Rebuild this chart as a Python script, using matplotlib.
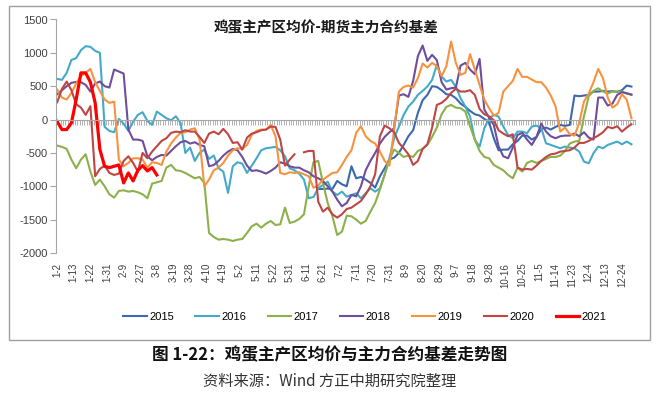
import numpy as np
import matplotlib
matplotlib.use("Agg")
import matplotlib.pyplot as plt
from matplotlib.patches import Rectangle

plt.rcParams['font.family'] = ['Liberation Sans', 'Noto Sans CJK SC', 'DejaVu Sans']
plt.rcParams['axes.unicode_minus'] = False

# category axis: trading days, one label every 7 days
n_days = 244
label_every = 7
date_labels = ["1-2", "1-13", "1-22", "1-31", "2-9", "2-27", "3-8", "3-19", "3-28",
               "4-10", "4-19", "5-2", "5-11", "5-22", "5-31", "6-11", "6-21", "7-2",
               "7-11", "7-20", "7-31", "8-9", "8-20", "8-29", "9-7", "9-18", "9-28",
               "10-16", "10-25", "11-5", "11-14", "11-23", "12-4", "12-13", "12-24"]

# basis values, every 2nd trading day
start_2015 = 110
s2015 = [-1040, -1040, -1035, -1040, -920, -970, -1000, -700, -880, -860,
         -900, -950, -1020, -850, -730, -600, -570, -500, -380, -250,
         -160, 100, 290, 370, 500, 490, 440, 380, 370, 320,
         240, 190, 130, 80, 60, 10, -40, -280, -460, -450,
         -450, -370, -320, -240, -240, -300, -260, -140, -120, -150,
         -110, -80, -95, -80, 360, 350, 360, 370, 420, 420,
         430, 420, 425, 415, 440, 510, 495]

s2016 = [610, 595, 700, 895, 920, 1040, 1100, 1090, 1030, 1000,
         -110, -170, -190, 10, -60, -170, -30, 70, 110, -20,
         -80, 120, 70, 20, -10, 50, -50, -500, -420, -620,
         -500, -450, -590, -540, -730, -780, -1100, -700, -640, -660,
         -800, -690, -580, -460, -430, -420, -410, -460, -550, -730,
         -760, -810, -900, -1180, -1160, -1030, -980, -930, -1080, -1130,
         -1080, -1155, -1130, -1105, -1180, -1105, -1030, -1080, -1030, -830,
         -580, -280, -105, 70, 195, 270, 370, 430, 495, 595,
         820, 645, 570, 595, 495, 320, 195, 45, -305, -405,
         -130, 20, 70, 45, -105, -230, -280, -180, -180, -205,
         -105, -90, -130, -355, -380, -405, -430, -405, -420, -430,
         -480, -630, -655, -505, -405, -430, -380, -355, -330, -370,
         -330, -370]

s2017 = [-390, -410, -440, -600, -730, -600, -520, -780, -980, -900,
         -1000, -1120, -1170, -1070, -1060, -1080, -1070, -1090, -1120, -1180,
         -960, -940, -920, -720, -680, -760, -770, -800, -840, -880,
         -860, -950, -1700, -1760, -1800, -1790, -1800, -1820, -1800, -1790,
         -1700, -1600, -1560, -1620, -1560, -1520, -1580, -1570, -1320, -1550,
         -1530, -1490, -1420, -1000, -640, -620, -950, -1250, -1450, -1730,
         -1680, -1440, -1450, -1500, -1560, -1520, -1380, -1250, -1050, -820,
         -600, -450, -500, -560, -540, -560, -470, -440, -380, -260,
         -120, 80, 190, 220, 180, 170, 120, -100, -300, -470,
         -560, -580, -680, -720, -760, -830, -880, -720, -780, -650,
         -620, -650, -620, -590, -560, -560, -540, -470, -360, -330,
         -320, 50, 350, 430, 470, 420, 390, 420, 420, 420,
         390, 370]

s2018 = [380, 440, 500, 550, 565, 560, 520, 420, 540, 570,
         500, 480, 750, 720, 690, -150, -300, -300, -320, -550,
         -610, -560, -530, -540, -470, -400, -340, -320, -360, -340,
         -380, -400, -700, -680, -620, -540, -480, -440, -460, -560,
         -690, -770, -760, -780, -810, -770, -720, -640, -660, -700,
         -720, -720, -760, -790, -850, -880, -920, -1000, -1080, -1200,
         -1300, -1250, -1130, -1150, -1000, -760, -620, -500, -360, -260,
         -190, -130, 360, 380, 340, 580, 950, 1110, 880, 970,
         890, 560, 450, 470, 480, 810, 850, 750, 680, 910,
         150, 30, -80, -400, -550, -580, -420, -230, -200, -300,
         -380, -260, -60, -180, -250, -280, -250, -240, -240, -210,
         -250, -190, -270, -300, 330, 330, 210, 240, 370, 410,
         395, 375]

s2019 = [450, 330, 300, 400, 540, 650, 700, 760, 560, 430,
         300, 250, 270, -600, -700, -650, -580, -580, -600, -720,
         -640, -650, -680, -480, -360, -270, -200, -190, -150, -130,
         -300, -1000, -900, -760, -720, -650, -540, -460, -430, -440,
         -380, -230, -170, -150, -150, -80, -250, -800, -820, -790,
         -800, -790, -820, -850, -1020, -990, -900, -850, -800, -790,
         -680, -560, -460, -200, -100, -250, -320, -360, -480, -620,
         -690, -150, 420, 490, 510, 480, 620, 840, 780, 850,
         800, 650, 800, 1170, 850, 670, 700, 980, 750, 520,
         300, 170, 60, 100, 420, 500, 580, 760, 640, 640,
         600, 560, 560, 480, 360, 200, -180, -120, -220, -240,
         -50, 270, 390, 560, 760, 620, 330, 180, 230, 380,
         300, 20]

s2020 = [260, 460, 570, 440, 230, 180, 70, 200, -850, -740,
         -690, -800, -830, -810, -620, -550, -650, -780, -500, -580,
         -480, -400, -320, -280, -200, -180, -190, -160, -180, -180,
         -260, -350, -210, -180, -220, -140, -220, -350, -340, -450,
         -270, -210, -190, -160, -150, -105, -110, -300, -690, -600,
         -520, np.nan, -490, -470, -470, -1230, -1380, -1320, -1420, -1470,
         -1420, -1340, -1320, -1270, -1220, -1120, -1000, -820, -250, -90,
         -130, -190, -350, -430, -520, -680, -620, -440, -370, -120,
         220, 250, 310, 400, 460, 420, 420, 440, 370, 160,
         80, 50, -10, -160, -210, -250, -220, -720, -750, -740,
         -750, -690, -620, -560, -520, -510, -480, -470, -460, -420,
         -350, -350, -320, -280, -240, -190, -110, -130, -100, -180,
         -120, -70]

s2021 = [-30, -150, -150, -50, 300, 700, 700, 560, 250, -450,
         -700, -720, -700, -680, -950, -800, -920, -760, -690, -770,
         -720, -830]

series = [
    ("2015", start_2015, s2015, "#3B68AE", 1.5),
    ("2016", 0, s2016, "#45AAC8", 1.5),
    ("2017", 0, s2017, "#8CB14A", 1.5),
    ("2018", 0, s2018, "#6F4E9C", 1.5),
    ("2019", 0, s2019, "#F7923F", 1.5),
    ("2020", 0, s2020, "#BF4644", 1.5),
    ("2021", 0, s2021, "#FF0000", 2.3),
]

W, H = 662, 394


def main():
    fig = plt.figure(figsize=(W / 100, H / 100), dpi=100)
    ax = fig.add_axes([56 / W, 141 / H, 579 / W, 233.5 / H])

    for name, start, vals, color, lw in series:
        xs = np.arange(start, start + 2 * len(vals), 2)
        ax.plot(xs, vals, color=color, lw=lw, label=name, solid_joinstyle="round")

    ax.set_xlim(-0.5, n_days - 0.5)
    ax.set_ylim(-2000, 1500)
    ax.set_yticks(np.arange(-2000, 1501, 500))

    axis_grey = "#A6A6A6"
    for side in ("top", "right"):
        ax.spines[side].set_visible(False)
    ax.spines["left"].set_color(axis_grey)
    ax.spines["bottom"].set_color(axis_grey)
    ax.spines["bottom"].set_position(("data", 0))
    ax.set_xticks(np.arange(-0.5, n_days, 1))
    ax.tick_params(axis="x", length=3.5, width=0.6, color=axis_grey,
                   labelbottom=False)
    ax.tick_params(axis="y", length=4, width=0.8, color=axis_grey,
                   labelsize=8, labelcolor="#404040", pad=2)

    # date labels sit at the bottom of the plot, not on the zero line
    sec = ax.secondary_xaxis("bottom")
    sec.set_xticks(np.arange(0, n_days, label_every), date_labels,
                   rotation=90, fontsize=7, color="#404040")
    sec.tick_params(length=0, pad=7)
    sec.spines["bottom"].set_visible(False)

    fig.text(326 / W, 1 - 27 / H, "鸡蛋主产区均价-期货主力合约基差",
             ha="center", va="center", fontsize=10.5, fontweight="bold",
             family=["Noto Sans CJK SC"], color="#1A1A1A")

    fig.legend(loc="center", bbox_to_anchor=(365 / W, 1 - 317 / H), ncol=7,
               frameon=False, fontsize=8, handlelength=2.1, handletextpad=0.25,
               columnspacing=1.9)

    fig.patches.append(Rectangle((9 / W, 1 - 340 / H), 641 / W, 334 / H,
                                 transform=fig.transFigure, fill=False,
                                 edgecolor="#A0A0A0", lw=1.0))

    fig.text(330 / W, 1 - 355 / H, "图 1-22：鸡蛋主产区均价与主力合约基差走势图",
             ha="center", va="center", fontsize=12, fontweight="bold",
             family=["Noto Sans CJK SC"], color="#111111")
    fig.text(330 / W, 1 - 381 / H, "资料来源：Wind 方正中期研究院整理",
             ha="center", va="center", fontsize=11,
             family=["Noto Sans CJK SC"], color="#333333")

    fig.savefig("out.png", dpi=100)


if __name__ == "__main__":
    main()
